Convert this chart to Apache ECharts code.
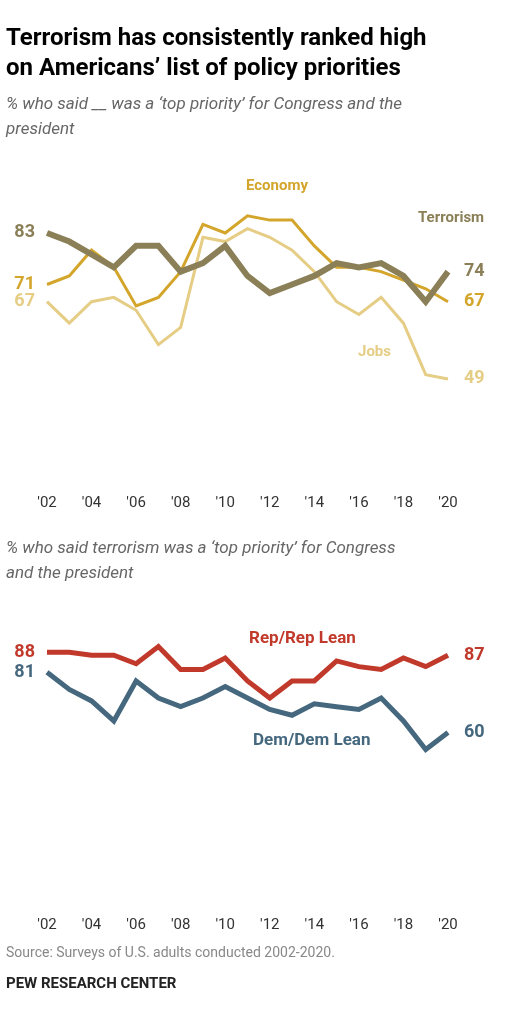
<!DOCTYPE html>
<html><head><meta charset="utf-8">
<script src="https://cdn.jsdelivr.net/npm/echarts@6/dist/echarts.min.js"></script>
<style>html,body{margin:0;padding:0;background:#fff}#c{width:505px;height:1023px}</style>
</head><body><div id="c"></div>
<script>
const years = ['02','03','04','05','06','07','08','09','10','11','12','13','14','15','16','17','18','19','20'];
const yearLabels = years.map(y => "'" + y);
const terrorism = [83,81,78,75,80,80,74,76,80,73,69,71,73,76,75,76,73,67,74];
const economy   = [71,73,79,75,66,68,74,85,83,87,86,86,80,75,75,74,72,70,67];
const jobs      = [67,62,67,68,65,57,61,82,81,84,82,79,74,67,64,68,62,50,49];
const rep       = [88,88,87,87,84,90,82,82,86,78,72,78,78,85,83,82,86,83,87];
const dem       = [81,75,71,64,78,72,69,72,76,72,68,66,70,69,68,72,64,54,60];

const FONT = 'Roboto, "Liberation Sans", sans-serif';
function endData(arr, color, size) {
  const n = arr.length;
  return arr.map((v, i) => {
    const lab = {show: true, color, fontSize: size, fontWeight: 'bold', fontFamily: FONT, formatter: '{c}'};
    if (i === 0) return {value: v, label: Object.assign(lab, {position: 'left', distance: 12})};
    if (i === n - 1) return {value: v, label: Object.assign(lab, {position: 'right', distance: 16})};
    return {value: v, label: {show: false}};
  });
}
function line(name, arr, color, width, xi, size) {
  return {name, type: 'line', xAxisIndex: xi, yAxisIndex: xi, data: endData(arr, color, size),
    symbol: 'circle', symbolSize: 0, showSymbol: true, lineStyle: {color, width, join: 'miter'}, itemStyle: {color},
    z: 2, animation: false};
}
const xAx = (gi) => ({type: 'category', gridIndex: gi, data: yearLabels, boundaryGap: false,
  axisLine: {show: false}, axisTick: {show: false},
  axisLabel: {interval: 1, color: '#333', fontSize: 15, fontFamily: FONT, margin: 14}});
const yAx = (gi, min, max) => ({type: 'value', gridIndex: gi, min, max, show: false, splitLine: {show: false}});

const T = (x, y, text, style) => ({type: 'text', left: x, top: y, style: Object.assign({text, fontFamily: FONT}, style)});
const chart = echarts.init(document.getElementById('c'));
chart.setOption({
  animation: false,
  grid: [
    {left: 47, width: 401, top: 160, height: 322},
    {left: 47, width: 401, top: 618, height: 286}
  ],
  xAxis: [xAx(0), xAx(1)],
  yAxis: [yAx(0, 25, 100), yAx(1, 0, 100)],
  series: [
    line('Jobs', jobs, '#e6cd85', 3, 0, 18),
    line('Economy', economy, '#d3a52a', 3, 0, 18),
    line('Terrorism', terrorism, '#8a7f57', 6, 0, 18),
    line('Rep', rep, '#c1392b', 5, 1, 18),
    line('Dem', dem, '#45687f', 5, 1, 18)
  ],
  graphic: [
    T(6, 24, 'Terrorism has consistently ranked high\non Americans’ list of policy priorities', {fontSize: 24, fontWeight: 'bold', fill: '#000', lineHeight: 30}),
    T(6, 92, '% who said __ was a ‘top priority’ for Congress and the\npresident', {fontSize: 17, fontStyle: 'italic', fill: '#666', lineHeight: 25}),
    T(246, 179, 'Economy', {fontSize: 15, fontWeight: 'bold', fill: '#d3a52a'}),
    T(418, 211, 'Terrorism', {fontSize: 15, fontWeight: 'bold', fill: '#8a7f57'}),
    T(358, 345, 'Jobs', {fontSize: 15, fontWeight: 'bold', fill: '#e6cd85'}),
    T(6, 536, '% who said terrorism was a ‘top priority’ for Congress\nand the president', {fontSize: 17, fontStyle: 'italic', fill: '#666', lineHeight: 25}),
    T(249, 630, 'Rep/Rep Lean', {fontSize: 17, fontWeight: 'bold', fill: '#c1392b'}),
    T(253, 732, 'Dem/Dem Lean', {fontSize: 17, fontWeight: 'bold', fill: '#45687f'}),
    T(6, 946, 'Source: Surveys of U.S. adults conducted 2002-2020.', {fontSize: 14, fill: '#888'}),
    T(6, 977, 'PEW RESEARCH CENTER', {fontSize: 15, fontWeight: 'bold', fill: '#222'})
  ]
});
</script></body></html>
